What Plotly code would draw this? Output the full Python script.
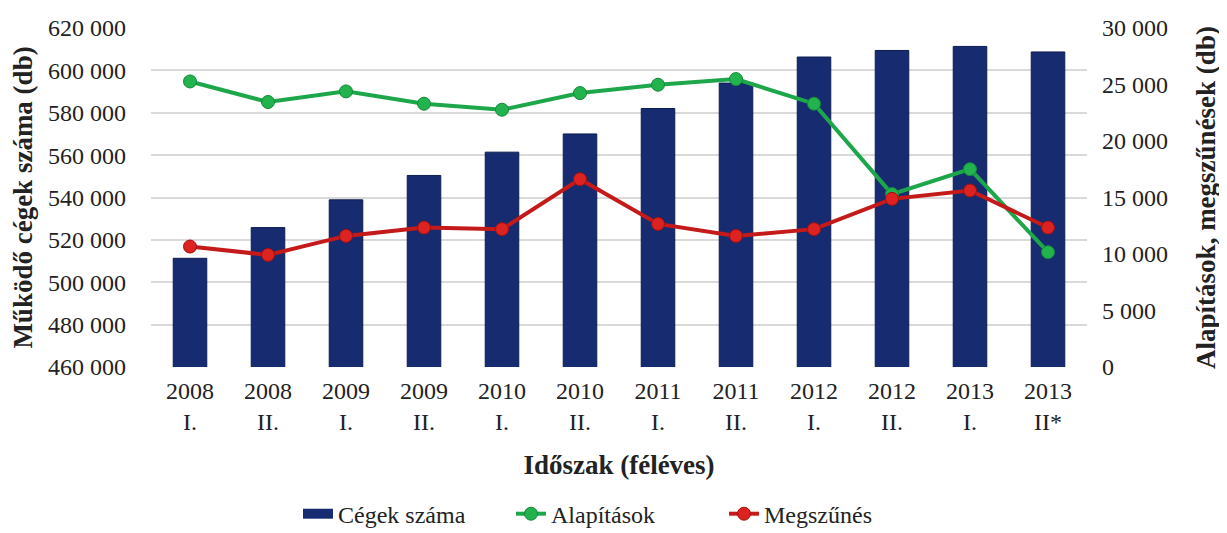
import plotly.graph_objects as go

periods = ["2008<br>I.", "2008<br>II.", "2009<br>I.", "2009<br>II.", "2010<br>I.", "2010<br>II.",
           "2011<br>I.", "2011<br>II.", "2012<br>I.", "2012<br>II.", "2013<br>I.", "2013<br>II*"]
cegek_szama = [511300, 525800, 538900, 550400, 561400, 570000,
               582000, 594000, 606300, 609400, 611300, 608700]
alapitasok = [25270, 23450, 24390, 23300, 22770, 24240,
              24980, 25480, 23300, 15300, 17510, 10160]
megszunes = [10660, 9920, 11600, 12340, 12200, 16620,
             12660, 11600, 12200, 14880, 15620, 12340]

FONT = "Liberation Serif"
NAVY = "#172b70"

fig = go.Figure()
fig.add_trace(go.Bar(
    x=periods, y=cegek_szama, name="Cégek száma", showlegend=False,
    marker=dict(color=NAVY, line=dict(color="#0d1c4f", width=1)),
    width=0.43, yaxis="y",
))
# legend-only entry drawn as a wide navy swatch, like the reference
fig.add_trace(go.Scatter(
    x=[None], y=[None], name="Cégek száma", mode="lines",
    line=dict(color=NAVY, width=12), yaxis="y",
))
fig.add_trace(go.Scatter(
    x=periods, y=alapitasok, name="Alapítások", mode="lines+markers",
    line=dict(color="#1ea64a", width=4),
    marker=dict(color="#22b34f", size=13, line=dict(color="#16873a", width=1)),
    yaxis="y2",
))
fig.add_trace(go.Scatter(
    x=periods, y=megszunes, name="Megszűnés", mode="lines+markers",
    line=dict(color="#c41a1a", width=4),
    marker=dict(color="#dd2222", size=13, line=dict(color="#a01010", width=1)),
    yaxis="y2",
))

fig.update_layout(
    width=1219, height=525,
    margin=dict(l=143, r=140, t=20, b=166),
    paper_bgcolor="white", plot_bgcolor="white",
    separators=", ",
    font=dict(family=FONT, size=24, color="#222222"),
    xaxis=dict(
        type="category", range=[-0.5, 11.5],
        showgrid=False, showline=False, ticks="",
        tickfont=dict(size=24), automargin=False, ticklabelstandoff=7,
        title=dict(text="<b>Időszak (féléves)</b>", font=dict(size=27), standoff=20),
    ),
    yaxis=dict(
        range=[460000, 620000], dtick=20000, tickformat=",d",
        showgrid=True, gridcolor="#d9d9d9", gridwidth=2,
        zeroline=False, showline=False, ticks="", automargin=False,
        tickfont=dict(size=24), ticklabelstandoff=24,
        title=dict(text="<b>Működő cégek száma (db)</b>", font=dict(size=27), standoff=8),
    ),
    yaxis2=dict(
        range=[0, 30000], dtick=5000, tickformat=",d",
        overlaying="y", side="right", showgrid=False, zeroline=False,
        showline=False, ticks="", tickfont=dict(size=24), automargin=False,
        ticklabelstandoff=14,
        title=dict(text="<b>Alapítások, megszűnések (db)</b>", font=dict(size=27), standoff=29),
    ),
    legend=dict(
        orientation="h", xref="container", x=0.5, xanchor="center",
        yref="container", y=0.036, yanchor="middle",
        font=dict(size=24), traceorder="normal", entrywidth=168,
    ),
    showlegend=True,
)

fig.write_html("out.html")
